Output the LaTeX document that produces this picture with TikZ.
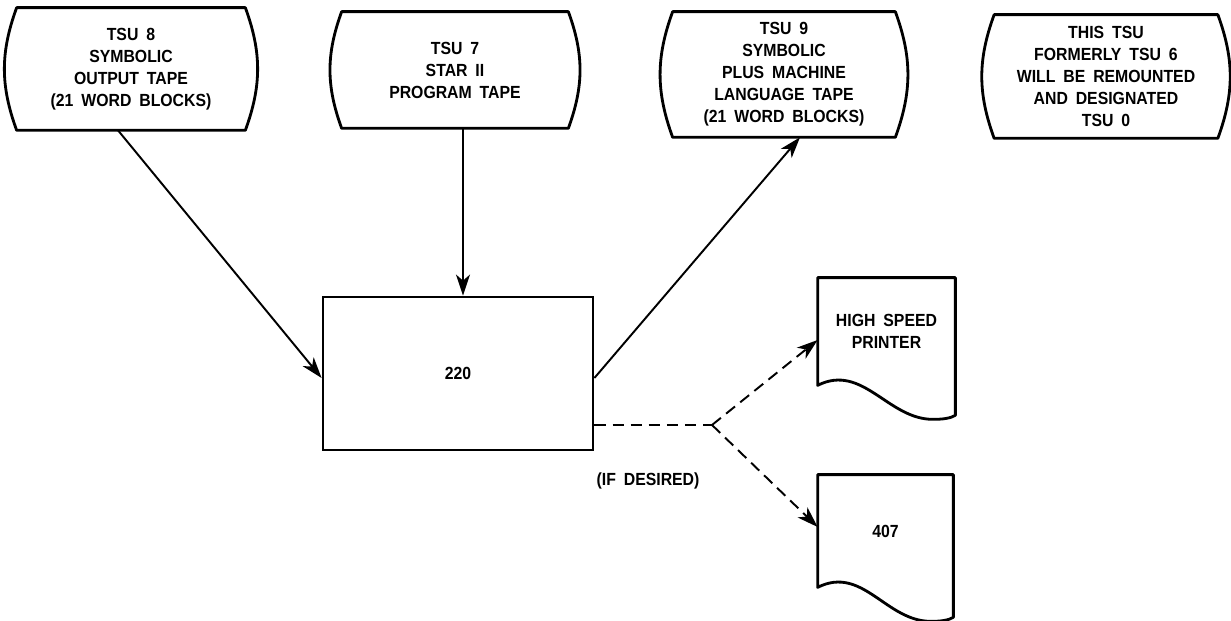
\documentclass[tikz,border=0pt]{standalone}
\usepackage{fontspec}
\setmainfont{Liberation Sans}[FakeStretch=0.9]
\usetikzlibrary{arrows.meta,calc,positioning}
\newcommand\tsufont{\fontsize{10}{12.5}\selectfont\bfseries\spaceskip=0.45em plus 0.1em\relax}

\begin{document}
\begin{tikzpicture}[
  tape/.style={inner sep=0pt, align=center, font=\tsufont},
  unit/.style={draw, line width=1.6pt, inner sep=0pt, align=center, font=\tsufont},
  paper/.style={inner sep=0pt, align=center, font=\tsufont},
  outline/.style={line width=1.6pt, line join=round},
  arrow/.style={-{Stealth[length=4.2mm, width=2.8mm, inset=1.2mm]}, line width=1.1pt},
  optional/.style={line width=1.1pt, dash pattern=on 6.5pt off 3.8pt},
  tag/.style={font=\tsufont}
]
\useasboundingbox (0,0) rectangle (24.62,12.42);

\node[tape, minimum width=4.56cm, minimum height=2.44cm] (tsu8) at (2.62,11.04) {TSU 8\\SYMBOLIC\\OUTPUT TAPE\\(21 WORD BLOCKS)};
\node[tape, minimum width=4.52cm, minimum height=2.32cm] (tsu7) at (9.10,11.02) {TSU 7\\STAR II\\PROGRAM TAPE};
\node[tape, minimum width=4.44cm, minimum height=2.50cm] (tsu9) at (15.68,10.93) {TSU 9\\SYMBOLIC\\PLUS MACHINE\\LANGUAGE TAPE\\(21 WORD BLOCKS)};
\node[tape, minimum width=4.46cm, minimum height=2.46cm] (tsu0) at (22.12,10.89) {THIS TSU\\FORMERLY TSU 6\\WILL BE REMOUNTED\\AND DESIGNATED\\TSU 0};

\foreach \t in {tsu8,tsu7,tsu9,tsu0}
  \draw[outline] (\t.north west) to[bend right=20] (\t.south west) -- (\t.south east) to[bend right=20] (\t.north east) -- cycle;

\node[unit, minimum width=5.4cm, minimum height=3.06cm] (cpu) at (9.16,4.95) {220};

\node[paper, minimum width=2.74cm, minimum height=2.14cm] (hsp)  at (17.73,5.79) {HIGH SPEED\\PRINTER};
\node[paper, minimum width=2.70cm, minimum height=2.24cm] (p407) at (17.71,1.80) {407};

\foreach \p in {hsp,p407}
  \draw[outline] (\p.south west) -- (\p.north west) -- (\p.north east) -- ([yshift=-0.6cm]\p.south east)
    .. controls +(-0.1,-0.06) and +(0.2,0) .. ([xshift=-0.45cm,yshift=-0.68cm]\p.south east)
    .. controls +(-0.9,0) and +(0.9,0.45) .. (\p.south west) -- cycle;

\draw[arrow] ([xshift=-0.26cm]tsu8.south) -- ([yshift=-0.09cm]cpu.west);
\draw[arrow] ([xshift=0.1cm]cpu.north |- tsu7.south) -- ([xshift=0.1cm]cpu.north);
\draw[arrow] ([yshift=-0.09cm]cpu.east) -- ([xshift=0.32cm]tsu9.south);

% --- optional output -------------------------------------------------------
\coordinate (fork) at (14.24,3.92);
\draw[optional] (cpu.east |- fork) -- (fork);
\draw[arrow, optional] (fork) -- ([yshift=-0.17cm]hsp.west);
\draw[arrow, optional] (fork) -- ([yshift=0.08cm]p407.west);

\node[tag] (ifd) at (12.96,2.80) {(IF DESIRED)};

\end{tikzpicture}
\end{document}
